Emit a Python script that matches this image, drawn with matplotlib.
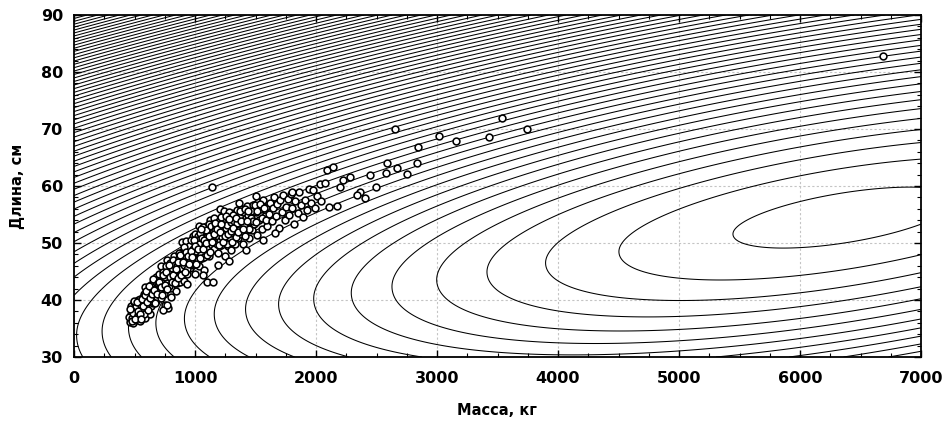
import numpy as np
import matplotlib
matplotlib.use("Agg")
import matplotlib.pyplot as plt
from matplotlib.ticker import MultipleLocator

# ---- observed points (mass kg, length cm), grouped along the band ----
band_450 = [(460,36.2),(470,37.5),(480,38.6),(490,36.0),(500,37.1),(505,39.3),(515,36.5),
            (520,38.2),(530,37.0),(540,39.0),(545,36.3),(550,38.0),(470,39.0),(495,38.0),
            (525,40.0),(455,37.0),(510,37.8),(535,38.5),(548,40.1),(480,36.8),
            (485,37.8),(498,39.6),(512,38.9),(527,37.4),(538,36.8)]
band_550 = [(560,37.2),(565,39.5),(575,41.0),(580,38.3),(590,40.2),(600,37.8),(605,42.0),
            (615,39.0),(620,40.8),(630,41.9),(640,38.9),(645,42.8),(655,40.4),(660,43.2),
            (670,41.3),(680,39.8),(685,42.4),(695,43.8),(700,41.0),(590,36.9),(610,41.3),
            (625,37.5),(650,39.4),(675,44.0),(565,38.0),(585,42.3),
            (556,39.1),(568,40.6),(578,37.6),(593,38.7),(603,40.9),(612,38.2),(628,39.9),
            (636,42.6),(648,41.2),(662,40.0),(668,42.0),(678,43.1),(690,40.5),(698,42.2)]
band_700 = [(710,42.7),(715,40.4),(725,44.1),(730,41.8),(740,43.0),(745,45.2),(755,39.2),
            (760,42.3),(770,44.4),(775,38.6),(785,43.5),(790,45.8),(800,42.1),(810,44.8),
            (815,46.3),(825,43.4),(835,45.0),(840,41.6),(850,46.6),(720,46.0),(765,47.0),
            (805,40.5),(830,47.8),(845,44.0),(736,38.2),(768,39.1),
            (703,44.5),(712,41.6),(722,43.4),(733,45.0),(742,41.1),(752,44.0),(758,45.9),
            (767,43.0),(778,44.9),(787,42.4),(796,46.5),(803,43.9),(812,45.6),(822,47.1),
            (828,44.3),(838,46.1),(848,42.9)]
band_850 = [(860,44.8),(865,47.3),(875,43.1),(880,46.0),(890,48.4),(900,45.3),(905,43.4),
            (915,47.0),(920,49.2),(930,44.6),(940,46.7),(945,48.8),(955,50.0),(960,45.6),
            (970,47.6),(975,49.6),(985,46.2),(990,48.3),(1000,50.4),(1000,44.5),(895,50.2),
            (935,42.8),(980,51.2),
            (855,45.9),(868,48.2),(872,44.5),(884,47.2),(893,45.6),(902,48.0),(912,46.1),
            (922,50.3),(928,47.8),(938,45.4),(948,49.4),(958,47.1),(967,50.6),(972,46.3),
            (983,49.0),(993,47.0),(997,51.6)]
band_1000 = [(1010,47.2),(1015,49.3),(1025,51.3),(1030,46.0),(1040,48.5),(1045,50.5),
             (1055,47.4),(1060,52.0),(1070,49.4),(1075,45.3),(1085,51.0),(1090,48.2),
             (1100,50.1),(1105,52.6),(1115,47.7),(1120,49.8),(1130,51.7),(1140,48.7),
             (1145,53.0),(1150,50.6),(1066,44.4),(1099,43.2),(1150,43.2),(1190,46.1),
             (1035,53.0),(1125,54.0),
             (1008,48.6),(1018,50.6),(1022,47.0),(1033,49.9),(1042,51.7),(1050,48.0),
             (1058,50.8),(1068,52.8),(1072,47.6),(1080,49.7),(1088,52.2),(1096,51.0),
             (1108,49.0),(1112,53.4),(1122,50.9),(1133,52.9),(1138,49.6),(1148,51.9)]
band_1150 = [(1160,49.0),(1165,52.2),(1175,50.8),(1180,54.0),(1190,48.2),(1200,51.5),
             (1205,53.2),(1215,49.6),(1220,52.4),(1230,55.0),(1235,50.5),(1245,53.6),
             (1250,47.8),(1260,51.8),(1270,54.3),(1275,49.4),(1285,52.8),(1290,50.9),
             (1300,55.2),(1300,48.7),(1210,56.0),(1280,46.8),
             (1155,54.3),(1163,50.2),(1172,52.9),(1178,49.8),(1186,51.3),(1195,53.9),
             (1203,50.4),(1212,54.5),(1224,51.0),(1238,53.2),(1242,55.6),(1255,52.6),
             (1264,49.9),(1268,53.1),(1278,55.5),(1288,51.7),(1295,53.7)]
band_1300 = [(1310,51.8),(1320,53.8),(1330,49.9),(1340,52.6),(1345,55.8),(1355,50.8),
             (1365,54.2),(1370,51.5),(1380,56.0),(1390,53.1),(1400,49.8),(1410,54.8),
             (1420,52.2),(1430,56.5),(1440,53.6),(1445,50.9),(1360,57.0),(1425,48.8),
             (1305,50.2),(1315,54.9),(1325,52.4),(1335,51.1),(1350,53.5),(1362,52.2),
             (1375,54.9),(1385,52.1),(1395,55.5),(1405,53.1),(1415,51.3),(1435,55.0)]
band_1450 = [(1460,54.4),(1470,52.2),(1480,56.6),(1490,53.4),(1500,55.5),(1510,51.4),
             (1520,57.2),(1530,54.0),(1545,55.9),(1555,52.5),(1565,57.5),(1575,54.8),
             (1590,56.3),(1595,53.0),(1500,58.2),(1560,50.5),
             (1450,52.5),(1465,55.7),(1478,53.8),(1495,56.7),(1505,53.7),(1515,55.6),
             (1535,56.9),(1550,54.3),(1570,56.1),(1585,54.0)]
band_1600 = [(1610,55.1),(1620,57.0),(1635,53.8),(1645,56.2),(1655,58.0),(1670,54.7),
             (1680,56.8),(1695,52.6),(1705,57.6),(1715,55.4),(1730,58.4),(1740,54.0),
             (1750,56.4),(1660,51.8)]
band_1750 = [(1765,57.8),(1775,55.0),(1790,58.6),(1805,56.2),(1815,53.4),(1830,57.4),
             (1850,55.3),(1860,58.9),(1875,56.6),(1890,54.6),(1800,59.0)]
band_1900 = [(1910,57.6),(1925,55.8),(1940,59.5),(1955,57.0),(1975,59.3),(1990,56.2),
             (2010,58.2),(2030,60.3),(2045,57.3)]
band_core = [(462,38.4),(476,36.4),(492,39.9),(503,36.6),(518,39.6),(532,38.0),(544,37.6),
             (552,36.7),(561,40.2),(572,39.0),(583,40.9),(596,41.6),(607,39.6),(618,42.4),
             (632,40.3),(642,41.0),(652,43.6),(664,41.7),(673,39.4),(683,41.0),(693,42.9),
             (706,43.2),(718,42.2),(727,40.9),(738,44.3),(748,42.6),(763,44.9),(772,41.9),
             (782,46.2),(792,44.1),(808,43.2),(818,44.3),(833,43.0),(843,45.4),(858,43.8),
             (863,46.6),(878,47.9),(887,44.3),(898,46.7),(908,49.3),(918,45.0),(925,48.4),
             (943,47.8),(952,46.3),(963,48.6),(978,47.5),(988,50.5),(1003,49.5),(1012,46.4),
             (1028,48.9),(1038,47.4),(1048,52.4),(1063,49.0),(1078,50.6),(1093,50.0),
             (1103,47.9),(1118,51.3),(1128,48.4),(1143,50.1),(1158,51.5),(1168,53.5),
             (1183,52.5),(1198,49.7),(1208,52.0),(1218,53.3),(1228,50.2),(1248,51.3),
             (1258,54.7),(1272,51.6),(1283,54.2),(1298,52.1),(1318,52.7),(1338,54.3),
             (1352,52.0),(1368,55.7),(1382,53.9),(1398,52.4),(1412,56.0),(1428,53.9),
             (1442,55.6)]
sparse_tail = [(2074,60.5),(2091,62.8),(2140,63.3),(2198,59.8),(2223,61.0),(2281,61.6),
               (2364,59.0),(2446,61.9),(2496,59.8),(2579,62.3),(2587,64.0),(2667,63.1),
               (2752,62.1),(2833,64.0),(2845,66.8),(3017,68.8),(3157,67.9),(3430,68.6),
               (3535,72.0),(3745,70.0),(2653,70.0),(2107,56.3),(2174,56.5),(2339,58.4),
               (2405,57.9)]
outliers = [(1138,59.9),(6683,82.8)]

groups = [band_450, band_550, band_700, band_850, band_1000, band_1150, band_1300,
          band_1450, band_1600, band_1750, band_1900, band_core, sparse_tail, outliers]
pts = np.array([p for g in groups for p in g], dtype=float)
mass = pts[:, 0]
length = pts[:, 1]

CENTER_MASS = 6370.0
CENTER_LEN = 54.6
RIDGE_SLOPE = 0.00327
LEN_SCALE_UP = 218.0
LEN_SCALE_DOWN = 201.6
LEVEL_START = 0.854e6
LEVEL_STEP = 2.63e6
N_LEVELS = 80

x_ticks = [0, 1000, 2000, 3000, 4000, 5000, 6000, 7000]
y_ticks = [30, 40, 50, 60, 70, 80, 90]

fig = plt.figure(figsize=(9.47, 4.21), dpi=100)
ax = fig.add_axes([74/947, 1-357/421, 847/947, 342/421])

gx = np.linspace(0, 7000, 700)
gy = np.linspace(30, 90, 500)
X, Y = np.meshgrid(gx, gy)
U = X - CENTER_MASS
V = Y - CENTER_LEN - RIDGE_SLOPE * U
K = np.where(V > 0, LEN_SCALE_UP, LEN_SCALE_DOWN)
F = U**2 + (K * V)**2
levels = LEVEL_START + LEVEL_STEP * np.arange(N_LEVELS)
ax.contour(X, Y, F, levels=levels, colors="black", linewidths=0.75, zorder=2)

ax.scatter(mass, length, s=24, facecolors="white", edgecolors="black",
           linewidths=1.15, zorder=3)

ax.set_xlim(0, 7000)
ax.set_ylim(30, 90)
ax.set_xticks(x_ticks)
ax.set_yticks(y_ticks)
ax.xaxis.set_minor_locator(MultipleLocator(250))
ax.yaxis.set_minor_locator(MultipleLocator(2))
ax.tick_params(which="both", direction="in", top=True, right=True, color="black")
ax.tick_params(which="major", length=5, width=1)
ax.tick_params(which="minor", length=3, width=0.8)
ax.tick_params(axis="x", which="major", pad=10)
ax.tick_params(axis="y", which="major", pad=8)
for lab in ax.get_xticklabels() + ax.get_yticklabels():
    lab.set_fontfamily("DejaVu Sans")
    lab.set_fontweight("bold")
    lab.set_fontsize(11.5)

ax.grid(True, which="major", color="#c4c4c4", linestyle=(0, (2, 2)), linewidth=0.8, zorder=1)
ax.set_axisbelow(True)
for sp in ax.spines.values():
    sp.set_linewidth(1.3)
    sp.set_zorder(4)

ax.set_xlabel("Масса, кг", fontfamily="DejaVu Sans", fontweight="bold", fontsize=10.5)
ax.set_ylabel("Длина, см", fontfamily="DejaVu Sans", fontweight="bold", fontsize=10.5)
ax.xaxis.set_label_coords(0.4994, -0.155)
ax.yaxis.set_label_coords(-0.067, 0.5)
ax.xaxis.label.set_va("center")
ax.yaxis.label.set_va("center")

fig.savefig("out.png", dpi=100)
